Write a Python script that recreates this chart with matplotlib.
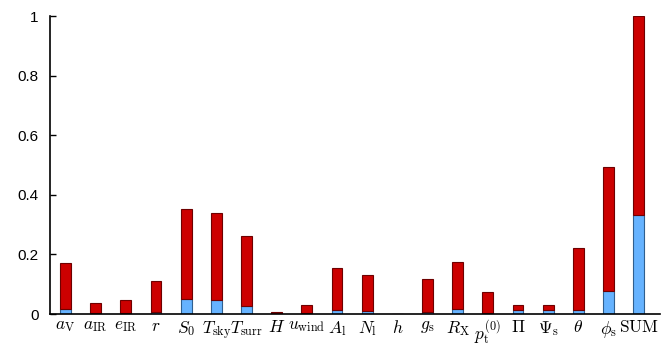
import matplotlib
matplotlib.use("Agg")
import matplotlib.pyplot as plt
import numpy as np

labels = [r"$a_\mathrm{V}$", r"$a_\mathrm{IR}$", r"$e_\mathrm{IR}$", r"$r$", r"$S_0$",
          r"$T_\mathrm{sky}$", r"$T_\mathrm{surr}$", r"$H$", r"$u_\mathrm{wind}$", r"$A_\mathrm{l}$",
          r"$N_\mathrm{l}$", r"$h$", r"$g_\mathrm{s}$", r"$R_\mathrm{X}$", r"$p_\mathrm{t}^{(0)}$",
          r"$\Pi$", r"$\Psi_\mathrm{s}$", r"$\theta$", r"$\phi_\mathrm{s}$", r"$\mathrm{SUM}$"]
first_order = [0.017, 0.002, 0.003, 0.006, 0.049, 0.046, 0.028, 0.0005, 0.002, 0.012,
               0.011, 0.0005, 0.008, 0.016, 0.004, 0.012, 0.014, 0.014, 0.076, 0.331]
total = [0.170, 0.036, 0.047, 0.112, 0.351, 0.340, 0.261, 0.006, 0.031, 0.154,
         0.130, 0.001, 0.119, 0.173, 0.073, 0.031, 0.031, 0.221, 0.494, 1.0]
yticks = [0, 0.2, 0.4, 0.6, 0.8, 1]
yticklabels = ["0", "0.2", "0.4", "0.6", "0.8", "1"]

plt.rcParams["mathtext.fontset"] = "cm"
plt.rcParams["font.family"] = ["Liberation Sans", "DejaVu Sans"]

fig = plt.figure(figsize=(6.62, 3.43), dpi=100)
ax = fig.add_axes([0.0755, 0.0845, 0.9215, 0.8685])

x = np.arange(len(labels))
fo = np.array(first_order)
tot = np.array(total)
w = 0.36
ax.bar(x, fo, width=w, color="#66b3ff", edgecolor="#2f5f8f", linewidth=0.8, zorder=2)
ax.bar(x, tot - fo, bottom=fo, width=w, color="#cc0000", edgecolor="#6e0000", linewidth=0.8, zorder=2)

ax.set_xlim(-0.514, 19.71)
ax.set_ylim(0, 1)
ax.set_xticks(x)
ax.set_xticklabels(labels, fontsize=12.5)
ax.set_yticks(yticks)
ax.set_yticklabels(yticklabels, fontsize=11)
ax.tick_params(axis="x", length=0, pad=3.5)
ax.tick_params(axis="y", direction="in", length=4, width=1, pad=8)
for s in ["top", "right"]:
    ax.spines[s].set_visible(False)
for s in ["left", "bottom"]:
    ax.spines[s].set_linewidth(1.2)

fig.savefig("out.png", dpi=100)
